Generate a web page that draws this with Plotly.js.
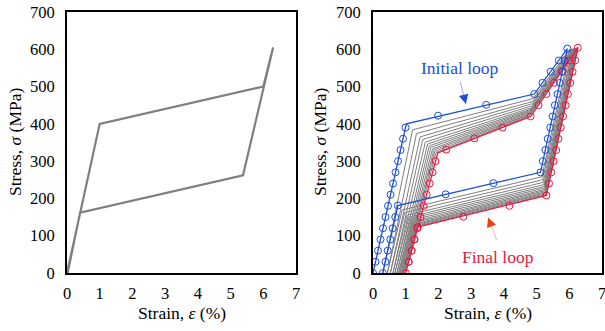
<!DOCTYPE html>
<html><head><meta charset="utf-8">
<script src="https://cdn.plot.ly/plotly-3.0.1.min.js"></script>
<style>html,body{margin:0;padding:0;background:#fff}#chart{width:605px;height:331px}</style>
</head><body><div id="chart"></div>
<script>
// Left panel: single idealised loop
const leftStrain = [0, 1.0, 6.0, 6.3, 5.38, 0.4, 0.02];
const leftStress = [0, 400, 500, 605, 262, 162, 0];

// Right panel: initial loop (blue) key points
const initStrain = [0, 1.02, 4.93, 5.94, 5.12, 0.76, 0.3];
const initStress = [0, 400, 480, 602, 270, 181, 0];
// initial loop markers
const initMarkStrain = [0, 0.077, 0.153, 0.23, 0.306, 0.383, 0.459, 0.536, 0.612, 0.689, 0.765, 0.842, 0.918, 0.995,
  1.99, 3.46, 4.93, 5.18, 5.43, 5.68, 5.94,
  5.86, 5.79, 5.71, 5.64, 5.56, 5.49, 5.42, 5.34, 5.27, 5.19, 5.12,
  3.68, 2.22, 0.76, 0.68, 0.60, 0.53, 0.45, 0.38, 0.30];
const initMarkStress = [0, 30, 60, 90, 120, 150, 180, 210, 240, 270, 300, 330, 360, 390,
  422, 451, 480, 510, 540, 570, 602,
  570, 540, 510, 480, 450, 420, 390, 360, 330, 300, 270,
  241, 211, 181, 150, 120, 90, 60, 30, 0];

// final loop (red) key points
const finalStrain = [1.0, 1.98, 4.82, 6.26, 5.3, 1.36, 1.0];
const finalStress = [0, 322, 420, 604, 208, 123, 0];
const finalMarkStrain = [1.0, 1.09, 1.18, 1.27, 1.36, 1.45, 1.55, 1.64, 1.73, 1.82, 1.91,
  2.24, 3.1, 3.96, 4.82, 5.06, 5.30, 5.53, 5.77, 6.0, 6.26,
  6.18, 6.10, 6.03, 5.96, 5.89, 5.81, 5.74, 5.67, 5.60, 5.52, 5.45, 5.38, 5.30,
  4.17, 2.76, 1.36, 1.26, 1.18, 1.09];
const finalMarkStress = [0, 30, 60, 90, 120, 150, 180, 210, 240, 270, 300,
  331, 361, 390, 420, 450, 480, 510, 540, 570, 604,
  570, 540, 510, 480, 450, 420, 390, 360, 330, 300, 270, 240, 208,
  180, 151, 123, 90, 60, 30];

// intermediate loops (grey)
const greyStrain = [
  [0.30, 1.21, 4.90, 6.02, 5.16, 0.89, 0.44],
  [0.44, 1.33, 4.88, 6.06, 5.18, 0.97, 0.53],
  [0.53, 1.44, 4.86, 6.10, 5.20, 1.04, 0.61],
  [0.61, 1.52, 4.85, 6.12, 5.22, 1.10, 0.67],
  [0.67, 1.60, 4.84, 6.15, 5.23, 1.15, 0.73],
  [0.73, 1.67, 4.83, 6.17, 5.24, 1.20, 0.78],
  [0.78, 1.72, 4.82, 6.19, 5.25, 1.23, 0.82],
  [0.82, 1.77, 4.81, 6.21, 5.26, 1.27, 0.85],
  [0.85, 1.82, 4.80, 6.23, 5.27, 1.30, 0.89],
  [0.89, 1.86, 4.80, 6.24, 5.28, 1.32, 0.92],
  [0.92, 1.89, 4.79, 6.25, 5.29, 1.35, 0.94],
  [0.94, 1.93, 4.78, 6.27, 5.29, 1.37, 0.97]
];
const greyStress = [
  [0, 384, 468, 601, 258, 169, 0],
  [0, 374, 460, 601, 250, 162, 0],
  [0, 365, 454, 601, 243, 155, 0],
  [0, 358, 448, 602, 237, 150, 0],
  [0, 351, 443, 602, 232, 146, 0],
  [0, 346, 439, 602, 228, 142, 0],
  [0, 341, 436, 602, 224, 138, 0],
  [0, 337, 433, 604, 221, 135, 0],
  [0, 333, 430, 604, 218, 132, 0],
  [0, 330, 427, 604, 215, 130, 0],
  [0, 326, 425, 605, 213, 128, 0],
  [0, 323, 422, 605, 210, 126, 0]
];

const xTicks = [0, 1, 2, 3, 4, 5, 6, 7];
const yTicks = [0, 100, 200, 300, 400, 500, 600, 700];

const BLUE = '#1b4fd6', RED = '#e8173f', GREY = '#7f7f7f';
const FONT = 'Liberation Serif';

const traces = [];
traces.push({x: leftStrain, y: leftStress, xaxis: 'x', yaxis: 'y', mode: 'lines',
  line: {color: GREY, width: 2.2}, hoverinfo: 'skip'});
for (let i = 0; i < greyStrain.length; i++) {
  traces.push({x: greyStrain[i], y: greyStress[i], xaxis: 'x2', yaxis: 'y2', mode: 'lines',
    line: {color: GREY, width: 1}, hoverinfo: 'skip'});
}
traces.push({x: finalStrain, y: finalStress, xaxis: 'x2', yaxis: 'y2', mode: 'lines',
  line: {color: RED, width: 1.3}});
traces.push({x: finalMarkStrain, y: finalMarkStress, xaxis: 'x2', yaxis: 'y2', mode: 'markers',
  marker: {symbol: 'circle-open', size: 7, color: RED, line: {width: 1}}});
traces.push({x: initStrain, y: initStress, xaxis: 'x2', yaxis: 'y2', mode: 'lines',
  line: {color: BLUE, width: 1.3}});
traces.push({x: initMarkStrain, y: initMarkStress, xaxis: 'x2', yaxis: 'y2', mode: 'markers',
  marker: {symbol: 'circle-open', size: 7, color: BLUE, line: {width: 1}}});

function ax(domain, anchor, isX) {
  return {
    domain: domain, anchor: anchor, range: isX ? [0, 7] : [0, 700],
    tickvals: isX ? xTicks : yTicks, ticktext: (isX ? xTicks : yTicks).map(String),
    showgrid: false, zeroline: false, showline: true, mirror: true,
    linecolor: '#000', linewidth: 2,
    ticks: 'outside', ticklen: isX ? 4 : 7, tickcolor: 'rgba(0,0,0,0)',
    ticklabeloverflow: 'allow',
    tickfont: {family: FONT, size: 16.5, color: '#000'}, fixedrange: true
  };
}
const yDom = [1 - 273/331, 1 - 12/331];
function lab(x, y, text, size, color, angle) {
  return {xref: 'paper', yref: 'paper', x: x, y: y, xanchor: 'center', yanchor: 'middle',
    text: text, showarrow: false, textangle: angle || 0,
    font: {family: FONT, size: size, color: color}};
}
function arrowLine(x, y, dx, dy, color) {
  return {xref: 'x2', yref: 'y2', x: x, y: y, ax: dx, ay: dy, text: '', showarrow: true,
    arrowhead: 0, arrowwidth: 0.8, arrowcolor: color};
}
function arrowHead(x, y, dx, dy, color) {
  return {xref: 'x2', yref: 'y2', x: x, y: y, ax: dx, ay: dy, text: '', showarrow: true,
    arrowhead: 2, arrowsize: 1.9, arrowwidth: 1, arrowcolor: color};
}
const layout = {
  width: 605, height: 331, margin: {l: 0, r: 0, t: 0, b: 0},
  paper_bgcolor: '#fff', plot_bgcolor: '#fff', showlegend: false,
  font: {family: FONT},
  xaxis: ax([67/605, 296/605], 'y', true),
  yaxis: ax(yDom, 'x', false),
  xaxis2: ax([373/605, 602/605], 'y2', true),
  yaxis2: ax(yDom, 'x2', false),
  annotations: [
    lab(181.5/605, 1 - 313/331, 'Strain, <i>ε</i> (%)', 17.5, '#000'),
    lab(488/605, 1 - 313/331, 'Strain, <i>ε</i> (%)', 17.5, '#000'),
    lab(15/605, 1 - 142/331, 'Stress, <i>σ</i> (MPa)', 17.5, '#000', -90),
    lab(320/605, 1 - 142/331, 'Stress, <i>σ</i> (MPa)', 17.5, '#000', -90),
    lab(460/605, 1 - 68/331, 'Initial loop', 17.5, BLUE),
    lab(497.5/605, 1 - 257/331, 'Final loop', 17.5, RED),
    arrowLine(2.84, 453, -6, -24, '#7f9ee8'),
    arrowHead(2.84, 453, -2, -8, BLUE),
    arrowLine(3.52, 149, 9, 24, '#f0a090'),
    arrowHead(3.52, 149, 3, 8, '#e8400f')
  ]
};
Plotly.newPlot('chart', traces, layout, {staticPlot: true, displayModeBar: false});
</script></body></html>
